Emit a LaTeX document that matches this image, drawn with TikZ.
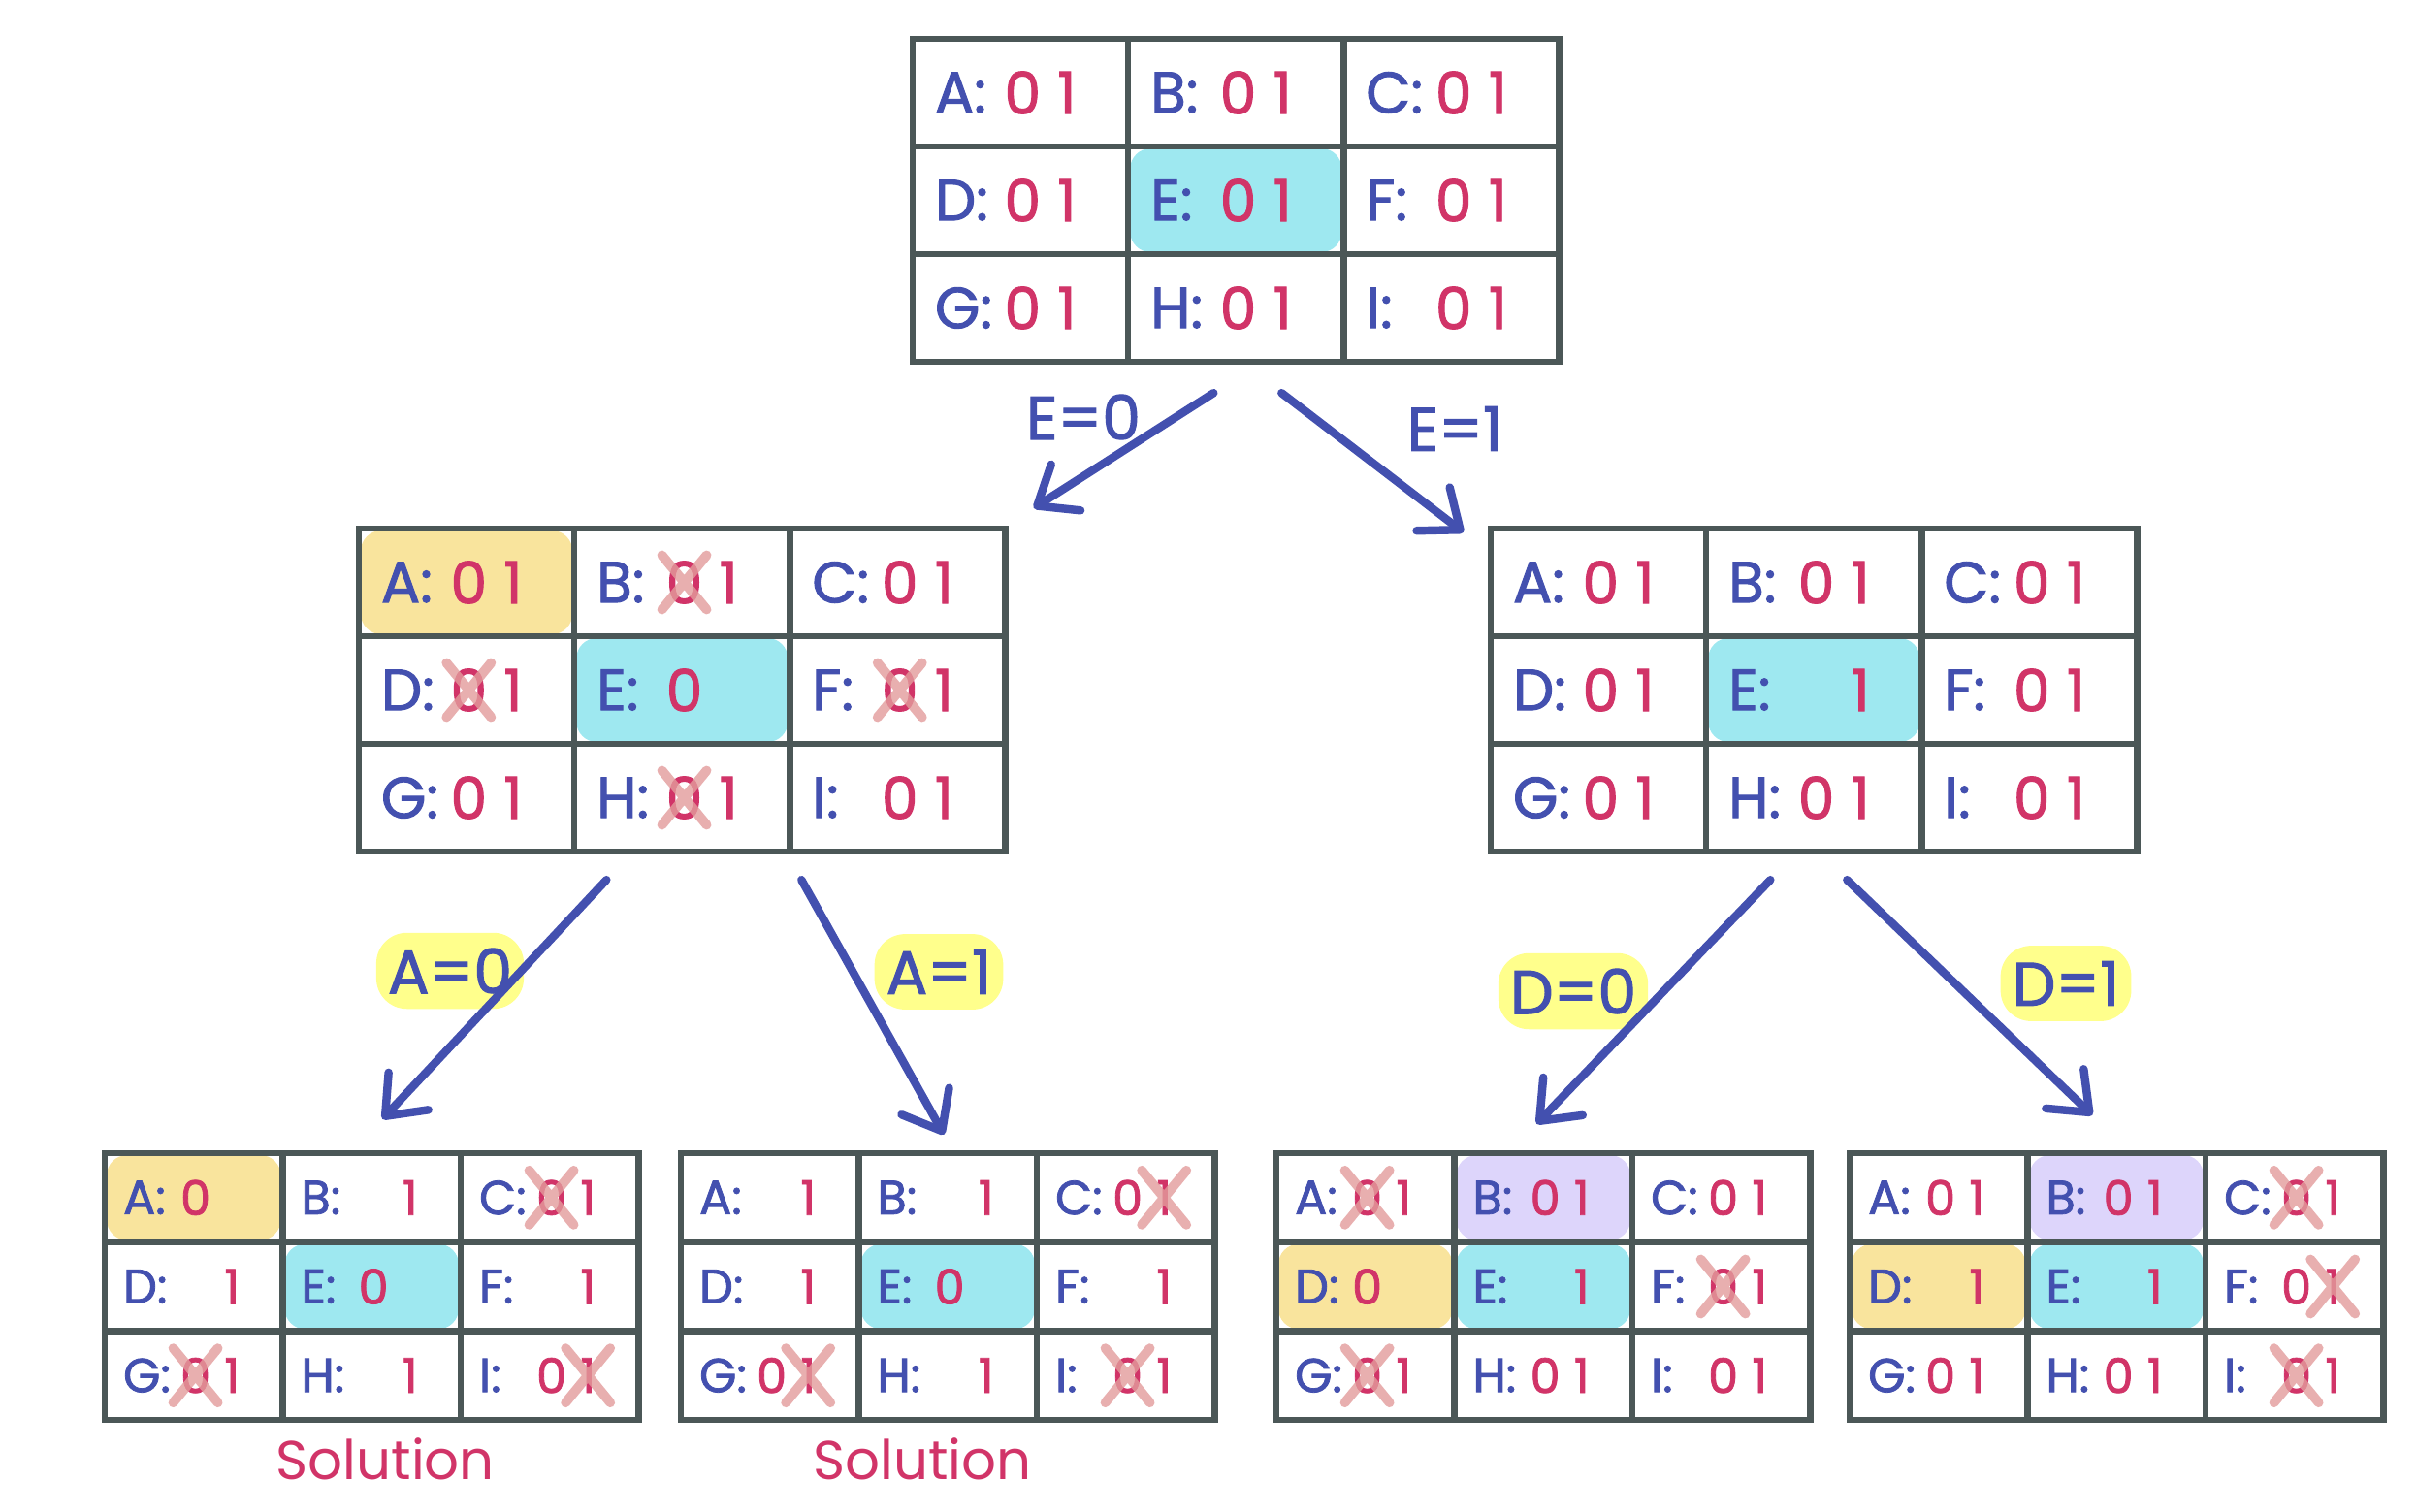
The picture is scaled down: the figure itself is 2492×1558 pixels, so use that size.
\documentclass[tikz,border=0pt]{standalone}
\usepackage{fontspec}
\setmainfont{Poppins}
\newfontfamily\handfont{Poppins}[FakeBold=1.6]
\usetikzlibrary{arrows.meta, positioning, calc, fit}
\definecolor{gridgray}{HTML}{4B5757}
\definecolor{varblue}{HTML}{4350AF}
\definecolor{valred}{HTML}{D13468}
\definecolor{hlcyan}{HTML}{9EE8F0}
\definecolor{hlyellow}{HTML}{F9E49D}
\definecolor{hlpurple}{HTML}{DDD5FB}
\definecolor{condyellow}{HTML}{FFFF8C}
\definecolor{strike}{HTML}{E39C9C}
\colorlet{nofill}{white}

% one 3x3 board: name, left, top, scale, cells as letter/zero/one/fill
% (k = kept, x = struck out, n = removed)
\newcommand{\board}[5]{%
  \pgfmathsetmacro{\cellw}{222.2*#4}%
  \pgfmathsetmacro{\cellh}{111*#4}%
  \pgfmathsetmacro{\cfs}{17*#4}%
  \pgfmathsetmacro{\bx}{#2+3*\cellw}%
  \pgfmathsetmacro{\by}{#3+3*\cellh}%
  \foreach \lab/\zero/\one/\bg [count=\i from 0] in {#5} {
    \pgfmathsetmacro{\cx}{#2+mod(\i,3)*\cellw}
    \pgfmathsetmacro{\cy}{#3+int(\i/3)*\cellh}
    \fill[cellfill, fill=\bg] (\cx+2,\cy+2) rectangle (\cx+\cellw-2,\cy+\cellh-2);
    \node[varname, font=\handfont\fontsize{\cfs}{\cfs}\selectfont] (#1\lab) at (\cx+0.1*\cellw,\cy+0.5*\cellh) {\lab:};
    \if\zero n\else
      \node[digit, font=\handfont\fontsize{\cfs}{\cfs}\selectfont] (#1\lab0) at (\cx+0.51*\cellw,\cy+0.5*\cellh) {0};
    \fi
    \if\zero x
      \draw[crossout] (\cx+0.51*\cellw-23,\cy+0.5*\cellh-28) -- ++(46,56) ++(0,-56) -- ++(-46,56);
    \fi
    \if\one n\else
      \node[digit, font=\handfont\fontsize{\cfs}{\cfs}\selectfont] (#1\lab1) at (\cx+0.715*\cellw,\cy+0.5*\cellh) {1};
    \fi
    \if\one x
      \draw[crossout] (\cx+0.715*\cellw-23,\cy+0.5*\cellh-28) -- ++(46,56) ++(0,-56) -- ++(-46,56);
    \fi
  }
  \node[board, fit={(#2,#3) (\bx,\by)}] (#1) {};
  \foreach \k in {1,2} {
    \draw[gridline] (#2+\k*\cellw,#3) -- (#2+\k*\cellw,\by);
    \draw[gridline] (#2,#3+\k*\cellh) -- (\bx,#3+\k*\cellh);
  }
}

\begin{document}
\begin{tikzpicture}[x=0.01cm, y=-0.01cm,
  varname/.style={text=varblue, anchor=west, inner sep=0pt},
  digit/.style={text=valred, inner sep=0pt},
  crossout/.style={draw=strike, opacity=0.8, line width=2.8pt, line cap=round},
  cellfill/.style={rounded corners=6pt},
  board/.style={draw=gridgray, line width=1.8pt, inner sep=0pt},
  gridline/.style={draw=gridgray, line width=1.8pt},
  cond/.style={text=varblue, font=\handfont\fontsize{18}{18}\selectfont, inner sep=2pt},
  condhl/.style={cond, fill=condyellow, rounded corners=9pt, inner xsep=0.12cm, inner ysep=0.16cm},
  arrow/.style={-{Straight Barb[length=10pt,width=16pt,round]}, line width=2.4pt, color=varblue, line cap=round},
  solution/.style={text=valred, font=\fontsize{16}{16}\selectfont}
]
\useasboundingbox (0,0) rectangle (2492,1558);

\board{root}{941}{40}{1}{A/k/k/nofill, B/k/k/nofill, C/k/k/nofill, D/k/k/nofill, E/k/k/hlcyan, F/k/k/nofill, G/k/k/nofill, H/k/k/nofill, I/k/k/nofill}
\board{midl}{370}{545}{1}{A/k/k/hlyellow, B/x/k/nofill, C/k/k/nofill, D/x/k/nofill, E/k/n/hlcyan, F/x/k/nofill, G/k/k/nofill, H/x/k/nofill, I/k/k/nofill}
\board{midr}{1537}{545}{1}{A/k/k/nofill, B/k/k/nofill, C/k/k/nofill, D/k/k/nofill, E/n/k/hlcyan, F/k/k/nofill, G/k/k/nofill, H/k/k/nofill, I/k/k/nofill}
\board{bla}{108}{1189}{0.8258}{A/k/n/hlyellow, B/n/k/nofill, C/x/k/nofill, D/n/k/nofill, E/k/n/hlcyan, F/n/k/nofill, G/x/k/nofill, H/n/k/nofill, I/k/x/nofill}
\board{blb}{702}{1189}{0.8258}{A/n/k/nofill, B/n/k/nofill, C/k/x/nofill, D/n/k/nofill, E/k/n/hlcyan, F/n/k/nofill, G/k/x/nofill, H/n/k/nofill, I/x/k/nofill}
\board{bra}{1316}{1189}{0.8258}{A/x/k/nofill, B/k/k/hlpurple, C/k/k/nofill, D/k/n/hlyellow, E/n/k/hlcyan, F/x/k/nofill, G/x/k/nofill, H/k/k/nofill, I/k/k/nofill}
\board{brb}{1907}{1189}{0.8258}{A/k/k/nofill, B/k/k/hlpurple, C/x/k/nofill, D/n/k/hlyellow, E/n/k/hlcyan, F/k/x/nofill, G/k/k/nofill, H/k/k/nofill, I/x/k/nofill}

% branch labels
\node[cond] (le0) at (1117,430) {E=0};
\node[cond] (le1) at (1500,442) {E=1};
\node[condhl] (la0) at (464,1001) {A=0};
\node[condhl] (la1) at (968,1002) {A=1};
\node[condhl] (ld0) at (1622,1022) {D=0};
\node[condhl] (ld1) at (2130,1014) {D=1};

% arrow ends
\coordinate (e0a) at ($(root.south)+(-23,29)$);
\coordinate (e0b) at ($(midl.north east)+(26,-18)$);
\coordinate (e1a) at ($(root.south)+(47,29)$);
\coordinate (e1b) at ($(midr.north west)+(-25,7)$);
\coordinate (a0a) at ($(midl.south)+(-78,26)$);
\coordinate (a0b) at ($(bla.north)+(11,-32)$);
\coordinate (a1a) at ($(midl.south)+(123,26)$);
\coordinate (a1b) at ($(blb.north)+(-4,-16)$);
\coordinate (d0a) at ($(midr.south)+(-45,26)$);
\coordinate (d0b) at ($(bra.north)+(-7,-27)$);
\coordinate (d1a) at ($(midr.south)+(34,26)$);
\coordinate (d1b) at ($(brb.north)+(-25,-36)$);

\draw[arrow] (e0a) -- (e0b);
\draw[arrow] (e1a) -- (e1b);
\draw[arrow] (a0a) -- (a0b);
\draw[arrow] (a1a) -- (a1b);
\draw[arrow] (d0a) -- (d0b);
\draw[arrow] (d1a) -- (d1b);

\node[solution, below=0.03cm of bla, xshift=0.14cm] (sola) {Solution};
\node[solution, below=0.03cm of blb, xshift=-0.26cm] (solb) {Solution};
\end{tikzpicture}
\end{document}
